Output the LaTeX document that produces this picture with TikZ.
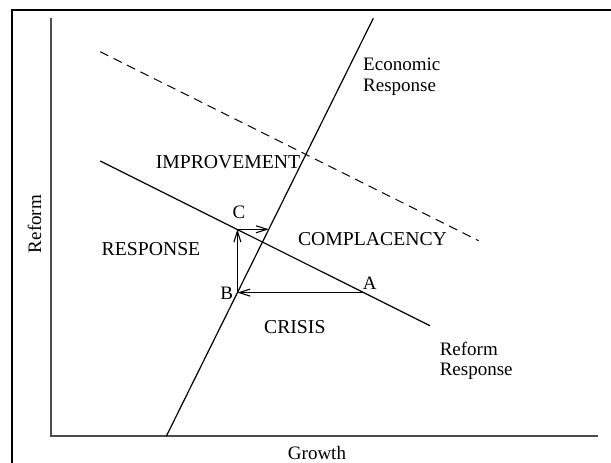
\documentclass[tikz,border=0pt]{standalone}
\usepackage{fontspec}
\setmainfont{Liberation Serif}
\usetikzlibrary{arrows.meta}
\begin{document}
\begin{tikzpicture}[x=1bp,y=-1bp,
  lbl/.style={font=\fontsize{19bp}{21bp}\selectfont, inner sep=0pt, anchor=base},
  region/.style={lbl, font=\fontsize{19.7bp}{21bp}\selectfont},
  curve/.style={line width=1.2bp, black},
  axis/.style={line width=1.6bp, black!70},
  move/.style={line width=1.1bp, -{Straight Barb[length=11bp,width=7bp]}}]
\useasboundingbox (0,0) rectangle (611,463);
% frame
\draw[line width=2bp] (12,463) -- (12,10) -- (611,10);
% axes
\coordinate (origin) at (51,436);
\coordinate (ytop) at (51,18);
\coordinate (xend) at (598,436);
\draw[axis] (ytop) -- (origin) -- (xend);
% economic response line
\coordinate (e0) at (166.4,436);
\coordinate (e1) at (373.3,18.3);
\draw[curve] (e0) -- (e1);
% reform response line
\coordinate (r0) at (100.2,161);
\coordinate (r1) at (429.9,325.7);
\draw[curve] (r0) -- (r1);
% shifted reform response (dashed)
\coordinate (d0) at (100.2,51.7);
\coordinate (d1) at (478.6,240.7);
\draw[line width=1bp, dash pattern=on 9bp off 6bp] (d0) -- (d1);
% adjustment path A -> B -> C -> D
\coordinate (A) at (363.3,292.6);
\coordinate (B) at (237.4,292.6);
\coordinate (C) at (237.4,229.3);
\coordinate (D) at (268.8,229.3);
\draw[move] (A) -- (B);
\draw[move] (B) -- (C);
\draw[move] (C) -- (D);
% labels
\node[lbl] (lA) at (369.8,290) {A};
\node[lbl] (lB) at (226.6,300) {B};
\node[lbl] (lC) at (239,218.3) {C};
\node[region] (improve) at (228,168.3) {IMPROVEMENT};
\node[region] (resp) at (151,255.7) {RESPONSE};
\node[region] (compl) at (372.5,245.7) {COMPLACENCY};
\node[region] (crisis) at (294.8,333.3) {CRISIS};
\node[lbl, anchor=base west] (econ1) at (363,70.6) {Economic};
\node[lbl, anchor=base west] (econ2) at (363,91.4) {Response};
\node[lbl, anchor=base west] (ref1) at (439.6,355) {Reform};
\node[lbl, anchor=base west] (ref2) at (439.6,375.8) {Response};
\node[lbl] (growth) at (317,459) {Growth};
\node[lbl, rotate=90] (reform) at (41,224) {Reform};
\end{tikzpicture}
\end{document}
